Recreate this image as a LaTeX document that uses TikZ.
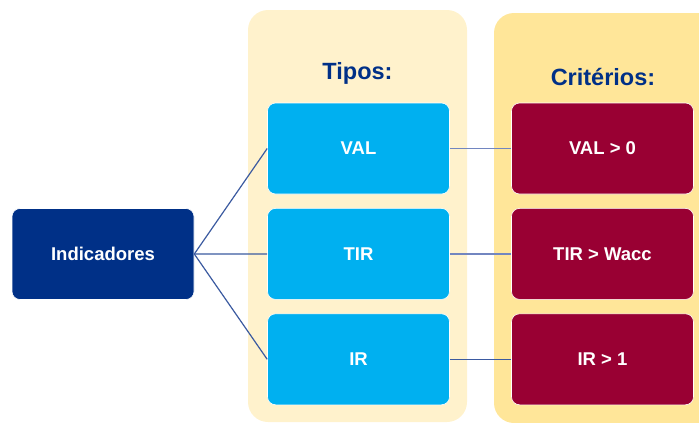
\documentclass[tikz,border=0pt]{standalone}
\usepackage{fontspec}
\setmainfont{Liberation Sans}
\usetikzlibrary{positioning}

\definecolor{navyblue}{HTML}{003087}
\definecolor{skyblue}{HTML}{00B0F0}
\definecolor{wine}{HTML}{990033}
\definecolor{paleyellow}{HTML}{FFF2CC}
\definecolor{goldyellow}{HTML}{FFE699}
\definecolor{linkblue}{HTML}{3B5AA0}
\definecolor{linkgrey}{HTML}{7286C0}

\begin{document}
\begin{tikzpicture}[x=1pt, y=-1pt, node distance=13.8pt,
  box/.style={rounded corners=8pt, draw=white, line width=0.6pt, minimum width=182pt, minimum height=91pt,
    inner sep=0pt, text=white, font=\bfseries\fontsize{18.5}{20}\selectfont},
  tipo/.style={box, fill=skyblue},
  criterio/.style={box, fill=wine},
  panel/.style={rounded corners=20pt, inner sep=0pt},
  heading/.style={text=navyblue, font=\bfseries\fontsize{23.5}{26}\selectfont},
  link/.style={draw=linkblue, line width=1.2pt},
]
  \useasboundingbox (0,0) rectangle (699,423);

  % background panels
  \node[panel, fill=paleyellow, minimum width=219pt, minimum height=412pt] (panelTipos) at (357.5,216) {};
  \node[panel, fill=goldyellow, minimum width=226pt, minimum height=410pt] (panelCrit) at (607,218) {};
  \node[heading] (tTipos) at (357.5,73) {Tipos:};
  \node[heading] (tCrit) at (603,77) {Critérios:};

  % boxes
  \node[box, fill=navyblue] (ind) at (103,254) {Indicadores};
  \node[tipo] (val) at (358.5,148.5) {VAL};
  \node[tipo, below=of val] (tir) {TIR};
  \node[tipo, below=of tir] (ir) {IR};
  \node[criterio] (cval) at (602.5,148.5) {VAL > 0};
  \node[criterio, below=of cval] (ctir) {TIR > Wacc};
  \node[criterio, below=of ctir] (cir) {IR > 1};

  % connectors
  \foreach \t in {val,tir,ir}
    \draw[link] (ind.east) -- (\t.west);
  \draw[link, draw=linkgrey] (val) -- (cval);
  \draw[link, draw=linkgrey] (tir) -- (ctir);
  \draw[link] (ir) -- (cir);
\end{tikzpicture}
\end{document}
